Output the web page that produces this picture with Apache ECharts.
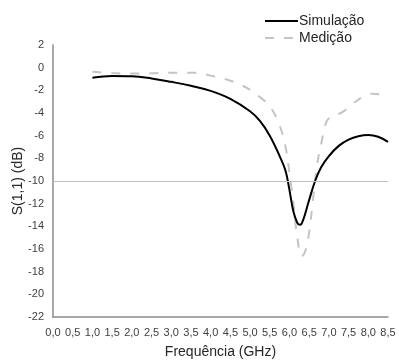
<!DOCTYPE html>
<html>
<head>
<meta charset="utf-8">
<script src="https://cdn.jsdelivr.net/npm/echarts@6/dist/echarts.min.js"></script>
<style>
  html, body { margin: 0; padding: 0; background: #fff; }
  #chart { width: 399px; height: 360px; }
</style>
</head>
<body>
<div id="chart"></div>
<script>
// S(1,1) reflection coefficient: simulated vs. measured, frequency in GHz
const simulacao = [
  [1.0, -0.88], [1.5, -0.74], [2.0, -0.76], [2.5, -0.95], [3.0, -1.25],
  [3.5, -1.6], [4.0, -2.05], [4.5, -2.75], [5.0, -3.85], [5.25, -4.7],
  [5.5, -6.0], [5.75, -7.8], [5.9, -9.1], [6.0, -10.8], [6.1, -12.7],
  [6.2, -13.7], [6.27, -13.86], [6.35, -13.4], [6.48, -11.9], [6.65, -10.0],
  [6.8, -8.8], [7.0, -7.8], [7.25, -6.9], [7.5, -6.35], [7.75, -6.05],
  [8.0, -5.95], [8.25, -6.1], [8.5, -6.55]
];
const medicao = [
  [1.0, -0.35], [1.5, -0.48], [2.0, -0.52], [2.5, -0.5], [3.0, -0.45],
  [3.5, -0.45], [3.75, -0.5], [4.0, -0.7], [4.25, -0.9], [4.5, -1.15],
  [4.75, -1.5], [5.0, -1.95], [5.25, -2.6], [5.5, -3.4], [5.75, -5.1],
  [5.9, -7.0], [6.0, -9.3], [6.1, -12.0], [6.2, -15.0], [6.31, -16.65],
  [6.4, -16.2], [6.5, -14.5], [6.6, -11.5], [6.7, -8.6], [6.8, -6.8],
  [6.95, -4.7], [7.1, -4.3], [7.35, -3.9], [7.6, -3.2], [7.85, -2.6],
  [8.1, -2.3], [8.3, -2.35], [8.5, -2.5]
];
const limiteDb = -10;
const xTicks = ['0,0','0,5','1,0','1,5','2,0','2,5','3,0','3,5','4,0','4,5',
                '5,0','5,5','6,0','6,5','7,0','7,5','8,0','8,5'];
const yTicks = [2, 0, -2, -4, -6, -8, -10, -12, -14, -16, -18, -20, -22];

const textColor = '#404040';
const axisGray = '#8c8c8c';
const font = 'Liberation Sans, Arial, sans-serif';

const chart = echarts.init(document.getElementById('chart'), null, { renderer: 'canvas' });
chart.setOption({
  animation: false,
  backgroundColor: '#fff',
  grid: { left: 53, right: 11, top: 45, bottom: 43, outerBoundsMode: 'none', containLabel: false },
  legend: {
    orient: 'vertical',
    left: 259,
    top: 9,
    itemWidth: 33,
    itemHeight: 12,
    itemGap: 3,
    itemStyle: { opacity: 0 },
    textStyle: { fontFamily: font, fontSize: 14, color: '#262626', padding: [0, 0, 0, -4] },
    data: ['Simulação', 'Medição']
  },
  xAxis: {
    type: 'value',
    min: 0, max: 8.5, interval: 0.5,
    name: 'Frequência (GHz)',
    nameLocation: 'middle',
    nameGap: 28,
    nameTextStyle: { fontFamily: font, fontSize: 14, color: '#262626' },
    axisLine: { show: true, onZero: false, lineStyle: { color: axisGray, width: 1.5 } },
    axisTick: { show: false },
    splitLine: { show: false },
    axisLabel: {
      fontFamily: font, fontSize: 11, color: textColor, margin: 10,
      formatter: v => xTicks[Math.round(v / 0.5)]
    }
  },
  yAxis: {
    type: 'value',
    min: -22, max: 2, interval: 2,
    name: 'S(1,1) (dB)',
    nameLocation: 'middle',
    nameGap: 28,
    nameMoveOverlap: false,
    nameTextStyle: { fontFamily: font, fontSize: 14, color: '#262626' },
    axisLine: { show: true, onZero: false, lineStyle: { color: axisGray, width: 1.5 } },
    axisTick: { show: false },
    splitLine: { show: false },
    axisLabel: {
      fontFamily: font, fontSize: 11, color: textColor, margin: 9,
      formatter: v => (yTicks.includes(v) ? String(v) : '')
    }
  },
  series: [
    {
      name: 'Simulação',
      type: 'line',
      data: simulacao,
      smooth: 0.4,
      symbol: 'none',
      z: 3,
      lineStyle: { color: '#000', width: 2 },
      itemStyle: { color: '#000' },
      markLine: {
        silent: true,
        symbol: 'none',
        label: { show: false },
        lineStyle: { color: '#bfbfbf', width: 1, type: 'solid' },
        data: [{ yAxis: limiteDb }]
      }
    },
    {
      name: 'Medição',
      type: 'line',
      data: medicao,
      smooth: 0.4,
      symbol: 'none',
      z: 2,
      lineStyle: { color: '#c4c4c4', width: 2, type: [9, 10] },
      itemStyle: { color: '#c4c4c4' }
    }
  ]
});
</script>
</body>
</html>
